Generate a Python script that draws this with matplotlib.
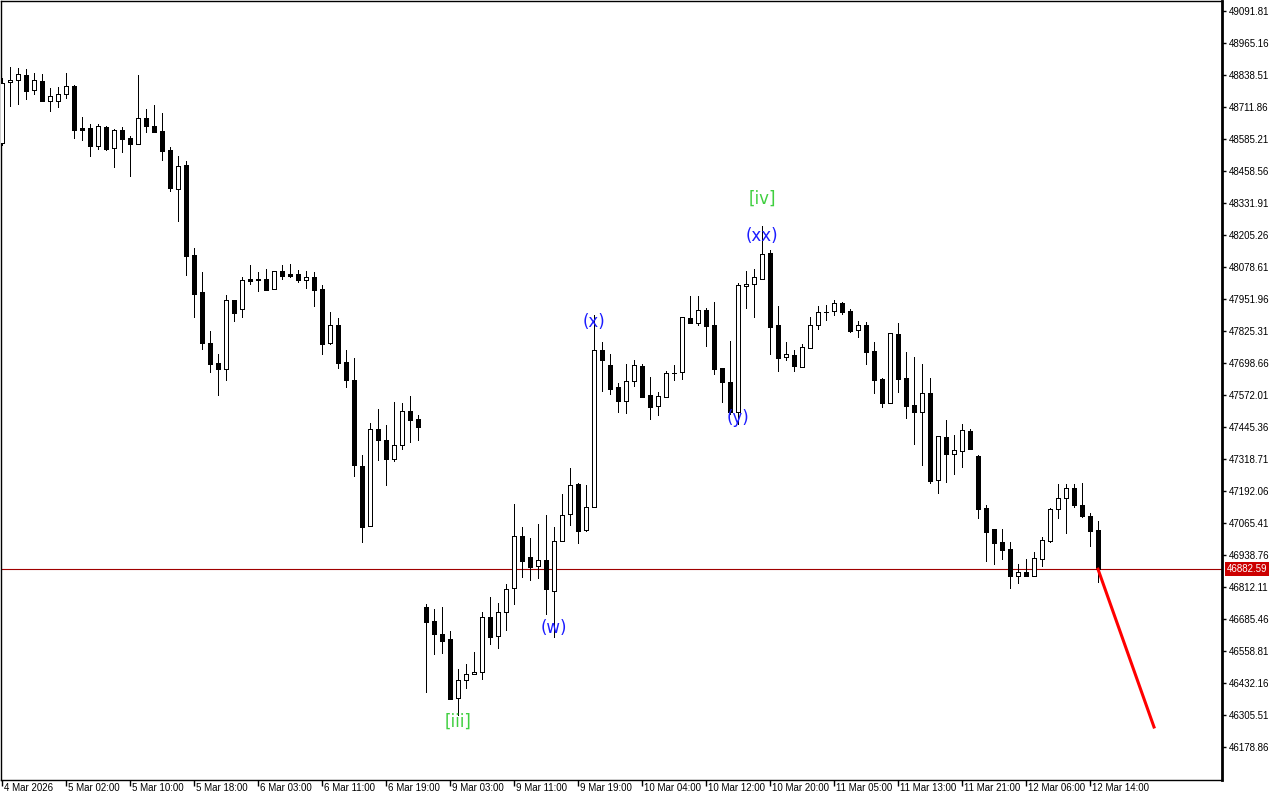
#!/usr/bin/env python3
import matplotlib
matplotlib.use('Agg')
from matplotlib import pyplot as plt
from matplotlib import transforms
import numpy as np

# hourly OHLC
opens = [48569.4, 48809.6, 48817.5, 48838.5, 48778.0, 48813.6, 48734.4, 48734.4, 48762.1, 48795.0,
         48628.8, 48627.6, 48558.7, 48632.7, 48548.4, 48620.8, 48589.2, 48564.2, 48668.4, 48635.5,
         48616.9, 48541.7, 48388.5, 48481.1, 48124.9, 47978.5, 47777.8, 47698.7, 47673.7, 47946.8,
         47911.2, 48031.1, 48029.9, 48029.9, 47990.4, 48061.6, 48050.9, 48050.9, 48028.3, 48039.0,
         47990.4, 47779.0, 47847.9, 47701.5, 47630.2, 47289.8, 47052.4, 47436.3, 47392.7, 47319.9,
         47372.9, 47507.5, 47475.8, 46733.0, 46677.6, 46626.1, 46606.3, 46371.6, 46442.9, 46466.6,
         46474.5, 46692.2, 46617.0, 46714.4, 46807.0, 47012.8, 46929.7, 46894.0, 46917.8, 46795.1,
         46993.2, 47099.9, 47219.8, 47039.1, 47128.8, 47750.1, 47690.7, 47603.7, 47547.1, 47626.3,
         47686.8, 47570.8, 47527.3, 47565.3, 47658.9, 47661.6, 47876.8, 47858.3, 47907.2, 47847.9,
         47679.0, 47623.6, 47503.9, 48002.3, 48012.5, 48032.3, 48132.9, 47847.9, 47721.2, 47730.3,
         47684.0, 47759.7, 47847.9, 47902.3, 47903.1, 47936.2, 47903.1, 47828.1, 47849.1, 47746.2,
         47635.3, 47541.5, 47813.4, 47639.3, 47532.4, 47503.9, 47579.9, 47234.4, 47405.8, 47339.7,
         47351.6, 47429.5, 47330.6, 47123.6, 47041.7, 46990.1, 46962.5, 46856.9, 46870.4, 46856.9,
         46924.2, 46995.5, 47122.0, 47165.6, 47204.0, 47136.7, 47093.1, 47038.7]

highs = [48826.6, 48871.4, 48866.2, 48862.3, 48845.2, 48841.3, 48785.9, 48789.8, 48845.2, 48799.0,
         48671.1, 48643.4, 48643.4, 48635.5, 48624.8, 48632.7, 48597.1, 48838.5, 48703.4, 48719.8,
         48688.1, 48552.4, 48516.7, 48497.0, 48152.6, 48058.8, 47825.3, 47734.3, 47967.8, 47946.8,
         48037.9, 48086.5, 48057.6, 48069.5, 48061.6, 48086.5, 48090.5, 48065.6, 48061.6, 48057.6,
         48007.4, 47900.5, 47875.6, 47750.1, 47718.5, 47333.4, 47460.0, 47515.4, 47453.3, 47543.1,
         47539.2, 47568.1, 47491.7, 46743.7, 46725.0, 46733.0, 46638.0, 46487.6, 46507.4, 46556.1,
         46712.0, 46773.7, 46747.6, 46822.8, 47140.6, 47049.6, 47004.8, 47061.5, 47097.1, 47049.6,
         47180.2, 47281.9, 47222.6, 47215.8, 47888.6, 47781.8, 47735.5, 47620.7, 47695.9, 47710.5,
         47695.9, 47643.3, 47583.9, 47666.0, 47689.5, 47880.7, 47964.1, 47964.1, 47915.1, 47940.1,
         47679.0, 47784.3, 48015.3, 48062.8, 48070.7, 48240.8, 48144.7, 47924.3, 47780.3, 47750.1,
         47773.9, 47881.9, 47924.3, 47928.2, 47948.0, 47939.0, 47912.1, 47864.9, 47861.0, 47781.8,
         47639.3, 47816.2, 47857.0, 47742.2, 47722.4, 47694.7, 47639.3, 47409.8, 47473.0, 47413.7,
         47457.2, 47437.4, 47334.5, 47136.7, 47041.7, 47041.7, 46989.0, 46903.2, 46923.0, 46949.5,
         47010.1, 47124.8, 47219.8, 47219.8, 47219.8, 47223.7, 47105.0, 47073.3]

lows = [48561.5, 48717.0, 48724.9, 48744.7, 48764.5, 48736.8, 48697.2, 48713.1, 48748.7, 48590.4,
        48582.4, 48519.1, 48546.8, 48542.9, 48475.6, 48535.0, 48440.0, 48564.2, 48614.5, 48611.7,
        48502.1, 48380.6, 48260.7, 48047.0, 47881.9, 47755.3, 47664.2, 47573.2, 47632.6, 47866.1,
        47881.9, 48012.5, 47984.8, 47988.8, 47990.4, 48032.3, 48040.2, 48019.2, 47996.7, 47925.5,
        47735.5, 47775.4, 47680.1, 47604.9, 47252.6, 46991.4, 47052.4, 47316.0, 47217.0, 47312.0,
        47359.5, 47384.9, 47393.9, 46397.7, 46548.1, 46552.1, 46370.0, 46305.5, 46413.6, 46466.6,
        46449.2, 46588.1, 46572.3, 46641.9, 46746.0, 46851.7, 46839.8, 46847.7, 46705.3, 46615.4,
        46993.2, 47058.3, 46987.8, 47035.1, 47128.8, 47589.0, 47577.0, 47506.3, 47502.4, 47608.8,
        47562.9, 47475.8, 47494.4, 47562.9, 47632.6, 47634.2, 47858.3, 47850.4, 47767.6, 47653.7,
        47545.5, 47497.2, 47457.8, 47917.2, 47880.7, 48029.9, 47735.5, 47668.1, 47711.7, 47668.1,
        47681.6, 47757.3, 47832.1, 47870.1, 47889.8, 47893.8, 47821.3, 47802.7, 47695.9, 47581.0,
        47524.5, 47541.5, 47583.9, 47480.9, 47378.1, 47296.2, 47224.9, 47185.3, 47228.9, 47260.5,
        47288.3, 47359.5, 47086.4, 46916.2, 46904.3, 46923.0, 46809.3, 46829.1, 46856.9, 46856.9,
        46896.4, 46990.2, 47085.1, 47025.8, 47129.9, 47089.1, 46974.4, 46831.9]

closes = [48806.9, 48817.5, 48841.3, 48776.4, 48817.5, 48736.8, 48754.2, 48762.1, 48793.8, 48622.0,
          48622.0, 48558.7, 48635.5, 48545.6, 48619.7, 48586.4, 48564.2, 48667.2, 48635.5, 48614.5,
          48538.9, 48392.5, 48477.2, 48123.3, 47973.0, 47779.0, 47695.9, 47676.1, 47946.8, 47895.4,
          48026.0, 48024.4, 48028.7, 47988.8, 48061.6, 48044.2, 48044.2, 48028.3, 48039.0, 47988.8,
          47775.4, 47847.9, 47699.9, 47632.6, 47296.2, 47048.4, 47436.3, 47395.1, 47319.9, 47372.9,
          47507.5, 47474.3, 47446.6, 46674.8, 46624.9, 46599.6, 46370.0, 46444.0, 46466.6, 46475.7,
          46692.2, 46615.4, 46712.0, 46803.0, 47012.8, 46916.2, 46892.4, 46917.8, 46803.0, 46993.2,
          47095.9, 47215.8, 47035.1, 47127.6, 47750.1, 47711.7, 47596.9, 47549.5, 47626.3, 47689.5,
          47565.3, 47525.7, 47566.8, 47658.9, 47660.8, 47880.7, 47858.3, 47907.2, 47846.4, 47673.4,
          47622.4, 47503.9, 48006.2, 48010.1, 48038.3, 48130.1, 47842.4, 47719.6, 47734.3, 47684.8,
          47761.3, 47849.1, 47899.3, 47900.5, 47935.0, 47901.7, 47825.3, 47847.9, 47743.4, 47632.6,
          47541.5, 47816.2, 47636.5, 47529.6, 47505.9, 47578.7, 47231.6, 47409.8, 47339.7, 47353.2,
          47432.3, 47359.5, 47122.0, 47030.9, 46987.3, 46959.8, 46856.9, 46870.4, 46856.9, 46926.9,
          46997.1, 47120.8, 47163.2, 47204.0, 47137.8, 47093.1, 47034.7, 46882.59]

time_labels = ['4 Mar 2026', '5 Mar 02:00', '5 Mar 10:00', '5 Mar 18:00', '6 Mar 03:00',
               '6 Mar 11:00', '6 Mar 19:00', '9 Mar 03:00', '9 Mar 11:00', '9 Mar 19:00',
               '10 Mar 04:00', '10 Mar 12:00', '10 Mar 20:00', '11 Mar 05:00', '11 Mar 13:00',
               '11 Mar 21:00', '12 Mar 06:00', '12 Mar 14:00']

price_ticks = [49091.81, 48965.16, 48838.51, 48711.86, 48585.21, 48458.56, 48331.91, 48205.26,
               48078.61, 47951.96, 47825.31, 47698.66, 47572.01, 47445.36, 47318.71, 47192.06,
               47065.41, 46938.76, 46812.11, 46685.46, 46558.81, 46432.16, 46305.51, 46178.86]

# wave count labels
wave_text = ['[iii]', '(w)', '(x)', '(y)', '(xx)', '[iv]']
wave_bar = [57, 69, 74, 92, 95, 95]
wave_price = [46278, 46650, 47861, 47481, 48201, 48348]
wave_kind = ['minor', 'sub', 'sub', 'sub', 'sub', 'minor']

# projected move
proj_bar = [137, 144]
proj_price = [46882.59, 46258.0]

last_price = closes[-1]

plt.rcParams['font.family'] = ['Liberation Sans', 'DejaVu Sans']

fig = plt.figure(figsize=(12.8, 8), dpi=100)
ax = fig.add_axes([1 / 1280, 20 / 800, 1221 / 1280, 779 / 800])

x = np.arange(len(opens))
o = np.array(opens)
h = np.array(highs)
l = np.array(lows)
c = np.array(closes)
up = c >= o

px = 0.72  # one pixel in points
ax.vlines(x, l, h, color='black', linewidth=px, zorder=2, antialiased=False)
ax.bar(x[up], np.maximum(c - o, 0.5)[up], bottom=o[up], width=0.55,
       facecolor='white', edgecolor='black', linewidth=px, zorder=3, antialiased=False)
ax.bar(x[~up], (o - c)[~up], bottom=c[~up], width=0.55,
       facecolor='black', edgecolor='black', linewidth=px, zorder=3, antialiased=False)

# current price line and projection
ax.axhline(last_price, color='#a00000', linewidth=0.8, zorder=1)
ax.plot(proj_bar, proj_price, color='#ff0000', linewidth=2.2, zorder=4)

colors = {'minor': '#3fcf3f', 'sub': '#1c1cff'}
for txt, b, p, k in zip(wave_text, wave_bar, wave_price, wave_kind):
    ax.text(b, p, txt, color=colors[k], fontsize=12, family='DejaVu Sans',
            ha='center', va='center', zorder=5)

ax.set_xlim(-0.125, 152.5)
ax.set_ylim(46048.2, 49131.4)

ax.yaxis.tick_right()
ax.set_yticks(price_ticks)
ax.set_yticklabels([f'{v:.2f}' for v in price_ticks])
ax.tick_params(axis='y', direction='out', length=3, width=1, labelsize=7, pad=2)

ax.set_xticks(np.arange(0, len(time_labels) * 8, 8))
ax.set_xticklabels(time_labels)
ax.tick_params(axis='x', direction='out', length=4.5, width=1, labelsize=7, pad=-2.5)
shift = transforms.ScaledTranslation(2 / 100, 0, fig.dpi_scale_trans)
for lbl in ax.get_xticklabels():
    lbl.set_horizontalalignment('left')
    lbl.set_transform(lbl.get_transform() + shift)

for side in ['left', 'top', 'bottom']:
    ax.spines[side].set_linewidth(1)
ax.spines['right'].set_linewidth(2)

# last price tag on the price scale
tag_tr = transforms.blended_transform_factory(ax.transAxes, ax.transData)
ax.text(1.004, last_price, f'{last_price:.2f}', transform=tag_tr, ha='left', va='center',
        color='white', fontsize=7, zorder=6,
        bbox=dict(boxstyle='square,pad=0.2', facecolor='#cc0000', edgecolor='none'))

fig.savefig('out.png', dpi=100)
